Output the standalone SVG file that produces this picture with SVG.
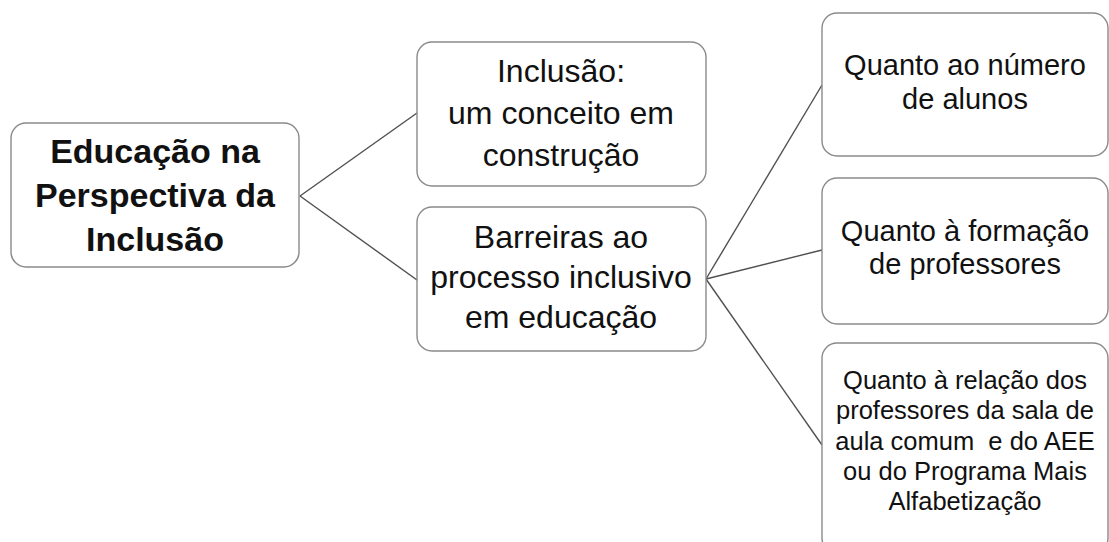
<svg xmlns="http://www.w3.org/2000/svg" width="1109" height="542" viewBox="0 0 1109 542">
<style>
.box{fill:#fff;stroke:#8a8a8a;stroke-width:1.4}
.t{font-family:"Liberation Sans",Arial,sans-serif;fill:#111;text-anchor:middle}
.b{font-weight:bold;font-size:34px}
.m{font-size:32px}
.s{font-size:29px}
.xs{font-size:25.5px}
.con{stroke:#505050;stroke-width:1.4;fill:none}
</style>
<rect width="1109" height="542" fill="#fff"/>
<g id="connectors">
<line class="con" x1="300" y1="196" x2="417" y2="113"/>
<line class="con" x1="300" y1="196" x2="417" y2="280"/>
<line class="con" x1="706" y1="279" x2="822" y2="85"/>
<line class="con" x1="706" y1="279" x2="822" y2="250"/>
<line class="con" x1="706" y1="279" x2="822" y2="445"/>
</g>
<g id="n1">
<rect class="box" x="11" y="123" width="288" height="144" rx="15"/>
<text class="t b"><tspan x="155" y="163">Educação na</tspan><tspan x="155" y="207">Perspectiva da</tspan><tspan x="155" y="251">Inclusão</tspan></text>
</g>
<g id="n2">
<rect class="box" x="417" y="42" width="289" height="144" rx="15"/>
<text class="t m"><tspan x="561" y="82">Inclusão:</tspan><tspan x="561" y="124">um conceito em</tspan><tspan x="561" y="166">construção</tspan></text>
</g>
<g id="n3">
<rect class="box" x="417" y="207" width="289" height="144" rx="15"/>
<text class="t m"><tspan x="561" y="248">Barreiras ao</tspan><tspan x="561" y="288">processo inclusivo</tspan><tspan x="561" y="328">em educação</tspan></text>
</g>
<g id="n4">
<rect class="box" x="822" y="13" width="286" height="143" rx="15"/>
<text class="t s"><tspan x="965" y="75">Quanto ao número</tspan><tspan x="965" y="109">de alunos</tspan></text>
</g>
<g id="n5">
<rect class="box" x="822" y="178" width="286" height="146" rx="15"/>
<text class="t s"><tspan x="965" y="241">Quanto à formação</tspan><tspan x="965" y="274">de professores</tspan></text>
</g>
<g id="n6">
<rect class="box" x="822" y="343" width="286" height="210" rx="15"/>
<text class="t xs" style="white-space:pre" xml:space="preserve"><tspan x="965" y="389">Quanto à relação dos</tspan><tspan x="965" y="419">professores da sala de</tspan><tspan x="965" y="450">aula comum  e do AEE</tspan><tspan x="965" y="480">ou do Programa Mais</tspan><tspan x="965" y="510">Alfabetização</tspan></text>
</g>
</svg>
